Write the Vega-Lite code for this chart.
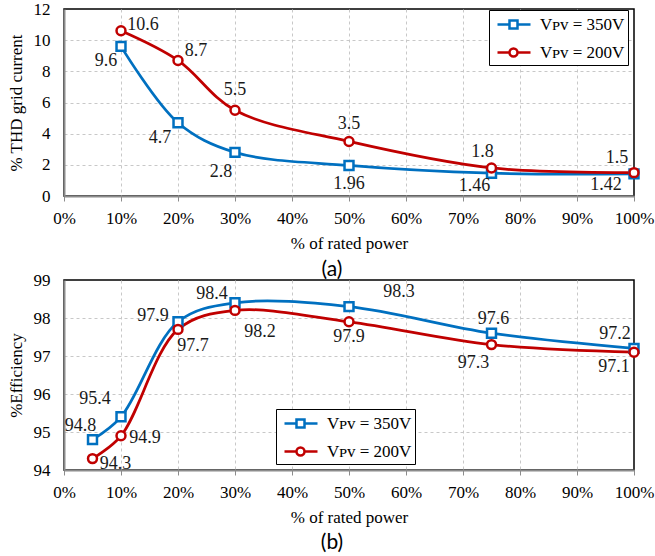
{
  "$schema": "https://vega.github.io/schema/vega-lite/v6.json",
  "padding": {"left": 6, "top": -1, "right": 5, "bottom": 0},
  "background": "white",
  "datasets": {
    "thd": [
      {"p": 10, "v": 9.6, "s": "350V"},
      {"p": 20, "v": 4.7, "s": "350V"},
      {"p": 30, "v": 2.8, "s": "350V"},
      {"p": 50, "v": 1.96, "s": "350V"},
      {"p": 75, "v": 1.46, "s": "350V"},
      {"p": 100, "v": 1.42, "s": "350V"},
      {"p": 10, "v": 10.6, "s": "200V"},
      {"p": 20, "v": 8.7, "s": "200V"},
      {"p": 30, "v": 5.5, "s": "200V"},
      {"p": 50, "v": 3.5, "s": "200V"},
      {"p": 75, "v": 1.8, "s": "200V"},
      {"p": 100, "v": 1.5, "s": "200V"}
    ],
    "eff": [
      {"p": 5, "v": 94.8, "s": "350V"},
      {"p": 10, "v": 95.4, "s": "350V"},
      {"p": 20, "v": 97.9, "s": "350V"},
      {"p": 30, "v": 98.4, "s": "350V"},
      {"p": 50, "v": 98.3, "s": "350V"},
      {"p": 75, "v": 97.6, "s": "350V"},
      {"p": 100, "v": 97.2, "s": "350V"},
      {"p": 5, "v": 94.3, "s": "200V"},
      {"p": 10, "v": 94.9, "s": "200V"},
      {"p": 20, "v": 97.7, "s": "200V"},
      {"p": 30, "v": 98.2, "s": "200V"},
      {"p": 50, "v": 97.9, "s": "200V"},
      {"p": 75, "v": 97.3, "s": "200V"},
      {"p": 100, "v": 97.1, "s": "200V"}
    ]
  },
  "bounds": "flush",
  "spacing": 84,
  "resolve": {
    "scale": {"color": "independent", "x": "independent", "y": "independent"},
    "legend": {"color": "independent"}
  },
  "vconcat": [
    {
      "width": 570,
      "height": 187,
      "title": {"text": "(a)", "orient": "bottom", "font": "Lato", "fontSize": 21, "fontWeight": "normal", "color": "#000", "frame": "group", "dx": -17, "offset": 8},
      "data": {"name": "thd"},
      "encoding": {
        "x": {
          "field": "p", "type": "quantitative",
          "scale": {"domain": [0, 100], "nice": false},
          "axis": {
            "values": [0, 10, 20, 30, 40, 50, 60, 70, 80, 90, 100],
            "labelExpr": "datum.value + '%'",
            "title": "% of rated power",
            "gridColor": {"condition": {"test": "datum.value == 100 || datum.value == 0", "value": "transparent"}, "value": "#c8c8c8"}
          }
        },
        "y": {
          "field": "v", "type": "quantitative",
          "scale": {"domain": [0, 12], "nice": false, "zero": false},
          "axis": {
            "values": [0, 2, 4, 6, 8, 10, 12],
            "title": "% THD grid current",
            "gridColor": {"condition": {"test": "datum.value == 12 || datum.value == 0", "value": "transparent"}, "value": "#c8c8c8"}
          }
        }
      },
      "layer": [
        {
          "mark": {"type": "line", "interpolate": "catmull-rom", "strokeWidth": 2.75},
          "encoding": {
            "color": {
              "field": "s", "type": "nominal",
              "scale": {"domain": ["350V", "200V"], "range": ["#0070C0", "#C00000"]},
              "legend": {
                "title": null, "orient": "none", "legendX": 425, "legendY": 1,
                "labelExpr": "'Vᴘᴠ = ' + datum.label",
                "labelFont": "Times New Roman, Liberation Serif, serif", "labelFontSize": 17, "labelColor": "#000",
                "labelOffset": 25, "symbolSize": 400, "symbolStrokeWidth": 2.5, "symbolFillColor": "white",
                "rowPadding": 7, "padding": 3, "strokeColor": "#000", "fillColor": "white",
                "encode": {
                  "symbols": {"update": {
                    "shape": {"signal": "datum.value == '350V' ? 'M-0.6,0H0.6M1.4,0H2.7M0.6,-0.4H1.4V0.4H0.6Z' : 'M-0.6,0H0.6M1.4,0H2.7M0.6,0A0.4,0.4,0,1,1,1.4,0A0.4,0.4,0,1,1,0.6,0Z'"},
                    "fill": {"value": "white"},
                    "strokeWidth": {"value": 2.5},
                    "opacity": {"value": 1}
                  }}
                }
              }
            }
          }
        },
        {
          "transform": [{"filter": "datum.s == '350V'"}],
          "mark": {"type": "point", "shape": "square", "filled": false, "fill": "white", "fillOpacity": 1, "opacity": 1, "strokeWidth": 2.5, "size": 80},
          "encoding": {
            "color": {"field": "s", "type": "nominal", "scale": {"domain": ["350V", "200V"], "range": ["#0070C0", "#C00000"]}}
          }
        },
        {
          "transform": [{"filter": "datum.s == '200V'"}],
          "mark": {"type": "point", "shape": "circle", "filled": false, "fill": "white", "fillOpacity": 1, "opacity": 1, "strokeWidth": 2.5, "size": 80},
          "encoding": {
            "color": {"field": "s", "type": "nominal", "scale": {"domain": ["350V", "200V"], "range": ["#0070C0", "#C00000"]}}
          }
        },
        {
          "transform": [{"filter": "datum.s == '350V'"}],
          "mark": {"type": "text", "font": "Times New Roman, Liberation Serif, serif", "fontSize": 18, "color": "#1a1a1a",
            "dx": {"expr": "[-15,-18,-14,0,-17,-28][indexof([10,20,30,50,75,100], datum.p)]"},
            "dy": {"expr": "[15,15,20,19,13,11][indexof([10,20,30,50,75,100], datum.p)]"}},
          "encoding": {"text": {"field": "v", "type": "nominal"}}
        },
        {
          "transform": [{"filter": "datum.s == '200V'"}],
          "mark": {"type": "text", "font": "Times New Roman, Liberation Serif, serif", "fontSize": 18, "color": "#1a1a1a",
            "dx": {"expr": "[22,18,0,0,-9,-17][indexof([10,20,30,50,75,100], datum.p)]"},
            "dy": {"expr": "[-6,-9,-20,-17,-16,-15][indexof([10,20,30,50,75,100], datum.p)]"}},
          "encoding": {"text": {"field": "v", "type": "nominal"}}
        }
      ]
    },
    {
      "width": 570,
      "height": 190,
      "title": {"text": "(b)", "orient": "bottom", "font": "Lato", "fontSize": 21, "fontWeight": "normal", "color": "#000", "frame": "group", "dx": -17, "offset": 7},
      "data": {"name": "eff"},
      "encoding": {
        "x": {
          "field": "p", "type": "quantitative",
          "scale": {"domain": [0, 100], "nice": false},
          "axis": {
            "values": [0, 10, 20, 30, 40, 50, 60, 70, 80, 90, 100],
            "labelExpr": "datum.value + '%'",
            "title": "% of rated power",
            "gridColor": {"condition": {"test": "datum.value == 100 || datum.value == 0", "value": "transparent"}, "value": "#c8c8c8"}
          }
        },
        "y": {
          "field": "v", "type": "quantitative",
          "scale": {"domain": [94, 99], "nice": false, "zero": false},
          "axis": {
            "values": [94, 95, 96, 97, 98, 99],
            "title": "%Efficiency",
            "gridColor": {"condition": {"test": "datum.value == 99 || datum.value == 94", "value": "transparent"}, "value": "#c8c8c8"}
          }
        }
      },
      "layer": [
        {
          "mark": {"type": "line", "interpolate": "catmull-rom", "strokeWidth": 2.75},
          "encoding": {
            "color": {
              "field": "s", "type": "nominal",
              "scale": {"domain": ["350V", "200V"], "range": ["#0070C0", "#C00000"]},
              "legend": {
                "title": null, "orient": "none", "legendX": 212, "legendY": 129,
                "labelExpr": "'Vᴘᴠ = ' + datum.label",
                "labelFont": "Times New Roman, Liberation Serif, serif", "labelFontSize": 17, "labelColor": "#000",
                "labelOffset": 25, "symbolSize": 400, "symbolStrokeWidth": 2.5, "symbolFillColor": "white",
                "rowPadding": 7, "padding": 3, "strokeColor": "#000", "fillColor": "white",
                "encode": {
                  "symbols": {"update": {
                    "shape": {"signal": "datum.value == '350V' ? 'M-0.6,0H0.6M1.4,0H2.7M0.6,-0.4H1.4V0.4H0.6Z' : 'M-0.6,0H0.6M1.4,0H2.7M0.6,0A0.4,0.4,0,1,1,1.4,0A0.4,0.4,0,1,1,0.6,0Z'"},
                    "fill": {"value": "white"},
                    "strokeWidth": {"value": 2.5},
                    "opacity": {"value": 1}
                  }}
                }
              }
            }
          }
        },
        {
          "transform": [{"filter": "datum.s == '350V'"}],
          "mark": {"type": "point", "shape": "square", "filled": false, "fill": "white", "fillOpacity": 1, "opacity": 1, "strokeWidth": 2.5, "size": 80},
          "encoding": {
            "color": {"field": "s", "type": "nominal", "scale": {"domain": ["350V", "200V"], "range": ["#0070C0", "#C00000"]}}
          }
        },
        {
          "transform": [{"filter": "datum.s == '200V'"}],
          "mark": {"type": "point", "shape": "circle", "filled": false, "fill": "white", "fillOpacity": 1, "opacity": 1, "strokeWidth": 2.5, "size": 80},
          "encoding": {
            "color": {"field": "s", "type": "nominal", "scale": {"domain": ["350V", "200V"], "range": ["#0070C0", "#C00000"]}}
          }
        },
        {
          "transform": [{"filter": "datum.s == '350V'"}],
          "mark": {"type": "text", "font": "Times New Roman, Liberation Serif, serif", "fontSize": 18, "color": "#1a1a1a",
            "dx": {"expr": "[-12,-26,-25,-23,50,2,-19][indexof([5,10,20,30,50,75,100], datum.p)]"},
            "dy": {"expr": "[-14,-18,-6,-9,-15,-14,-14][indexof([5,10,20,30,50,75,100], datum.p)]"}},
          "encoding": {"text": {"field": "v", "type": "nominal"}}
        },
        {
          "transform": [{"filter": "datum.s == '200V'"}],
          "mark": {"type": "text", "font": "Times New Roman, Liberation Serif, serif", "fontSize": 18, "color": "#1a1a1a",
            "dx": {"expr": "[23,24,15,25,0,-18,-20][indexof([5,10,20,30,50,75,100], datum.p)]"},
            "dy": {"expr": "[5,2,17,22,15,18,15][indexof([5,10,20,30,50,75,100], datum.p)]"}},
          "encoding": {"text": {"field": "v", "type": "nominal"}}
        }
      ]
    }
  ],
  "config": {
    "font": "Times New Roman, Liberation Serif, serif",
    "view": {"stroke": "#000", "strokeWidth": 1.5},
    "axis": {
      "labelFont": "Times New Roman, Liberation Serif, serif", "labelFontSize": 17, "labelColor": "#000",
      "titleFont": "Times New Roman, Liberation Serif, serif", "titleFontSize": 17, "titleFontWeight": "normal", "titleColor": "#000",
      "domainColor": "#8c8c8c", "domainWidth": 2,
      "gridDash": [3, 3], "gridWidth": 1,
      "tickColor": "#8c8c8c"
    },
    "axisX": {"tickSize": 5, "labelPadding": 9, "titlePadding": 9, "labelFlush": false, "labelOverlap": false},
    "axisY": {"ticks": false, "tickSize": 0, "labelPadding": 14, "titlePadding": 8}
  }
}
